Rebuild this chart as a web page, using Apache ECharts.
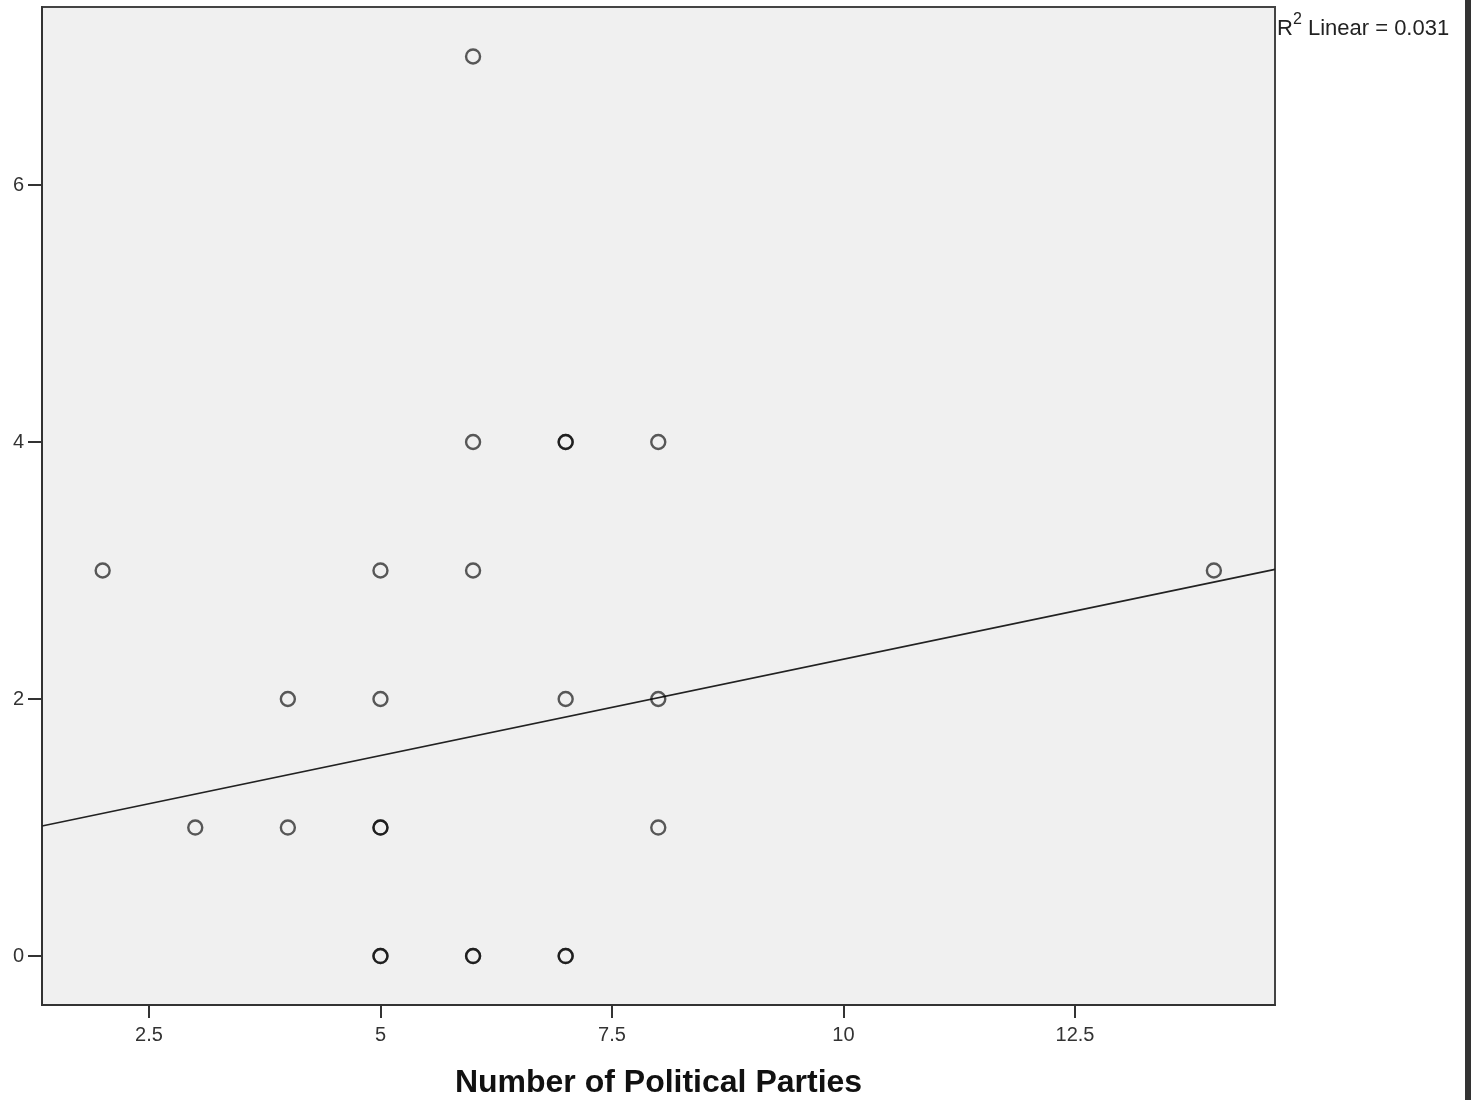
<!DOCTYPE html>
<html>
<head>
<meta charset="utf-8">
<script src="https://cdn.jsdelivr.net/npm/echarts@6/dist/echarts.min.js"></script>
<style>
html,body{margin:0;padding:0;background:#fff;}
#c{width:1471px;height:1100px;}
</style>
</head>
<body>
<div id="c"></div>
<script>
// Data (x = Number of Political Parties, y = outcome)
const xValues = [2, 3, 4, 4, 5, 5, 5, 5, 5, 5, 6, 6, 6, 6, 6, 7, 7, 7, 7, 7, 8, 8, 8, 14];
const yValues = [3, 1, 2, 1, 3, 2, 1, 1, 0, 0, 7, 4, 3, 0, 0, 4, 4, 2, 0, 0, 4, 2, 1, 3];
const xTicks = [2.5, 5, 7.5, 10, 12.5];
const xTickLabels = ['2.5', '5', '7.5', '10', '12.5'];
const yTicks = [0, 2, 4, 6];
const yTickLabels = ['0', '2', '4', '6'];
// Fit line coefficients
const fitIntercept = 0.81;
const fitSlope = 0.150;
const rSquaredText = '0.031';
const xName = 'Number of Political Parties';

const xMin = 1.345, xMax = 14.66, yMin = -0.381, yMax = 7.385;
const points = xValues.map((x, i) => [x, yValues[i]]);
const fitLine = [[xMin, fitIntercept + fitSlope * xMin], [xMax, fitIntercept + fitSlope * xMax]];

const FONT = 'Liberation Sans, Arial, sans-serif';
const chart = echarts.init(document.getElementById('c'));
chart.setOption({
  backgroundColor: '#ffffff',
  animation: false,
  grid: {
    left: 42, right: 196, top: 7, bottom: 95,
    outerBoundsMode: 'none', containLabel: false,
    show: true, backgroundColor: '#f0f0f0', borderColor: '#444', borderWidth: 2
  },
  xAxis: {
    type: 'value', min: xMin, max: xMax,
    name: xName, nameLocation: 'middle', nameGap: 62,
    nameTextStyle: { fontFamily: FONT, fontWeight: 'bold', fontSize: 32, color: '#111' },
    axisLine: { show: true, onZero: false, lineStyle: { color: '#333', width: 2 } },
    axisTick: { show: true, length: 13, customValues: xTicks, lineStyle: { color: '#333', width: 2 } },
    axisLabel: {
      customValues: xTicks, margin: 20,
      formatter: v => xTickLabels[xTicks.indexOf(v)] ?? String(v),
      fontFamily: FONT, fontSize: 20, color: '#333'
    },
    splitLine: { show: false }
  },
  yAxis: {
    type: 'value', min: yMin, max: yMax,
    axisLine: { show: true, onZero: false, lineStyle: { color: '#333', width: 2 } },
    axisTick: { show: true, length: 14, customValues: yTicks, lineStyle: { color: '#333', width: 2 } },
    axisLabel: {
      customValues: yTicks, margin: 18,
      formatter: v => yTickLabels[yTicks.indexOf(v)] ?? String(v),
      fontFamily: FONT, fontSize: 20, color: '#333'
    },
    splitLine: { show: false }
  },
  series: [
    {
      type: 'line', data: fitLine, showSymbol: false, silent: true,
      lineStyle: { color: '#222', width: 1.6 }, z: 2
    },
    {
      type: 'scatter', data: points, symbol: 'circle', symbolSize: 14,
      itemStyle: { color: 'rgba(0,0,0,0)', borderColor: 'rgba(0,0,0,0.8)', borderWidth: 2.4 },
      z: 3
    }
  ],
  graphic: [
    {
      type: 'text', left: 1277, top: 12,
      style: {
        text: '{a|R}{s|2}{a| Linear = ' + rSquaredText + '}',
        rich: {
          a: { fontFamily: FONT, fontSize: 22, fill: '#222', verticalAlign: 'bottom', lineHeight: 28 },
          s: { fontFamily: FONT, fontSize: 16, fill: '#222', verticalAlign: 'top', lineHeight: 28, padding: [0, 0, 10, 0] }
        }
      }
    },
    {
      type: 'rect', left: 1465, top: 0,
      shape: { width: 6, height: 1100 },
      style: { fill: '#333' }
    }
  ]
});
</script>
</body>
</html>
